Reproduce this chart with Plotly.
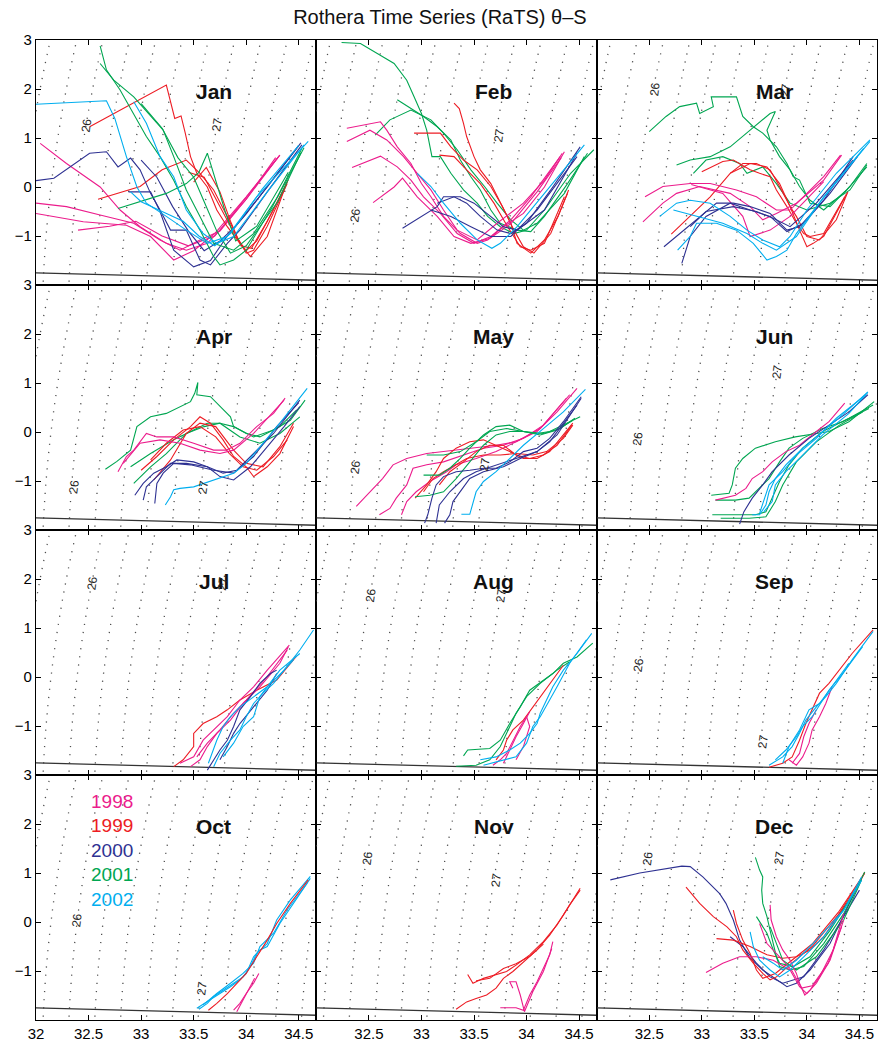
import numpy as np
import plotly.graph_objects as go
from plotly.subplots import make_subplots

# ---------------- data: (year, salinity list, potential temperature list) ----------------
JAN = [
    (1998, [32.04, 32.29, 32.61, 32.8, 32.99, 33.24, 33.43, 33.63, 33.75, 34.0, 34.32], [0.89, 0.48, 0.0, -0.47, -0.81, -1.15, -1.29, -1.15, -0.88, -0.2, 0.65]),
    (1998, [32.0, 32.29, 32.61, 32.93, 33.18, 33.37, 33.56, 33.75, 34.0, 34.3], [-0.33, -0.4, -0.57, -0.74, -1.08, -1.29, -1.08, -0.9, -0.25, 0.6]),
    (1998, [32.0, 32.45, 32.86, 33.09, 33.31, 33.5, 33.7, 34.0, 34.32], [-0.54, -0.71, -0.78, -1.01, -1.49, -1.3, -0.95, -0.2, 0.65]),
    (1998, [32.4, 32.7, 32.95, 33.2, 33.45, 33.7, 34.0, 34.28], [-0.88, -0.8, -0.7, -1.0, -1.2, -1.0, -0.25, 0.6]),
    (1999, [32.51, 33.24, 33.32, 33.38, 33.42, 33.47, 33.53, 33.63, 33.72, 33.82, 33.94, 34.04, 34.2, 34.39], [1.23, 2.08, 1.4, 1.45, 1.1, 0.62, 0.28, 0.0, -0.47, -0.81, -1.15, -1.42, -1.01, 0.11]),
    (1999, [32.59, 32.99, 33.2, 33.43, 33.56, 33.69, 33.82, 33.91, 34.0, 34.07, 34.2, 34.39], [-0.25, 0.01, 0.35, 0.55, 0.28, -0.06, -0.6, -1.01, -1.35, -1.29, -0.8, 0.07]),
    (1999, [33.45, 33.6, 33.7, 33.8, 33.9, 34.0, 34.1, 34.25, 34.4], [0.3, 0.2, -0.2, -0.6, -1.0, -1.3, -1.1, -0.5, 0.15]),
    (1999, [33.5, 33.62, 33.75, 33.85, 33.95, 34.05, 34.2, 34.38], [0.1, 0.4, -0.1, -0.7, -1.2, -1.25, -0.7, 0.05]),
    (2000, [32.0, 32.17, 32.51, 32.67, 32.78, 32.9, 32.99, 33.09, 33.18, 33.28, 33.43, 33.56, 33.66, 33.82, 33.94, 34.2, 34.53], [0.13, 0.18, 0.69, 0.72, 0.41, 0.59, 0.35, -0.13, -0.47, -0.88, -0.88, -1.49, -1.59, -1.15, -0.88, -0.1, 0.86]),
    (2000, [32.88, 33.09, 33.18, 33.31, 33.5, 33.66, 33.82, 34.0, 34.25, 34.5], [-0.1, -0.1, -0.5, -1.29, -1.63, -1.5, -1.0, -0.55, 0.15, 0.85]),
    (2000, [33.0, 33.15, 33.3, 33.45, 33.6, 33.75, 33.9, 34.2, 34.52], [0.55, 0.2, -0.4, -0.9, -1.3, -1.1, -0.8, 0.0, 0.9]),
    (2001, [32.61, 32.67, 32.8, 32.93, 33.05, 33.18, 33.31, 33.43, 33.56, 33.69, 33.75, 33.88, 34.0, 34.25, 34.53], [2.88, 2.39, 1.98, 1.5, 1.03, 0.62, 0.14, -0.4, -0.88, -1.42, -1.59, -1.49, -1.29, -0.4, 0.79]),
    (2001, [32.61, 32.74, 32.93, 33.09, 33.21, 33.31, 33.43, 33.56, 33.69, 33.88, 34.07, 34.3, 34.55], [2.52, 2.18, 1.84, 1.44, 1.16, 0.62, -0.06, -0.6, -1.15, -1.29, -0.95, -0.2, 0.8]),
    (2001, [32.78, 33.02, 33.24, 33.43, 33.55, 33.63, 33.7, 33.8, 33.9, 34.1, 34.4], [-0.44, -0.27, -0.13, 0.07, 0.3, 0.69, 0.2, -0.5, -1.1, -0.8, 0.3]),
    (2001, [33.0, 33.2, 33.35, 33.5, 33.6, 33.72, 33.85, 34.0, 34.3, 34.52], [1.7, 1.2, 0.6, 0.2, -0.3, -0.9, -1.35, -1.2, -0.3, 0.7]),
    (2002, [32.0, 32.67, 32.75, 32.86, 32.96, 33.05, 33.24, 33.43, 33.63, 33.82, 34.1, 34.59], [1.69, 1.76, 1.4, 0.62, 0.0, -0.33, -0.6, -0.88, -1.15, -1.01, -0.2, 0.93]),
    (2002, [32.93, 33.05, 33.18, 33.31, 33.43, 33.59, 33.72, 33.88, 34.2, 34.55], [1.74, 1.3, 0.62, 0.21, -0.47, -0.95, -1.15, -1.01, -0.1, 0.86]),
    (2002, [32.9, 33.0, 33.2, 33.4, 33.55, 33.7, 33.85, 34.15, 34.5], [-0.1, -0.3, -0.5, -0.7, -1.0, -1.2, -0.95, -0.05, 0.85]),
]

FEB = [
    (2001, [32.24, 32.42, 32.74, 32.86, 32.93, 33.0, 33.05, 33.1, 33.18, 33.28, 33.4, 33.53, 33.63, 33.75, 33.88, 34.0, 34.17, 34.42, 34.64], [2.95, 2.93, 2.52, 2.18, 1.84, 1.5, 1.16, 0.62, 0.62, 0.28, -0.06, -0.33, -0.6, -0.81, -0.95, -0.88, -0.47, 0.28, 0.76]),
    (2001, [32.77, 32.9, 33.02, 33.15, 33.28, 33.37, 33.47, 33.56, 33.66, 33.75, 33.91, 34.04, 34.17, 34.39, 34.58], [1.78, 1.6, 1.44, 1.23, 0.96, 0.55, 0.21, -0.06, -0.47, -0.74, -0.88, -0.91, -0.6, 0.07, 0.69]),
    (2001, [32.56, 32.7, 32.9, 33.09, 33.21, 33.34, 33.47, 33.6, 33.72, 33.85, 33.97, 34.1, 34.36, 34.55], [1.06, 1.37, 1.57, 1.37, 1.1, 0.76, 0.35, 0.01, -0.33, -0.67, -0.88, -0.74, -0.13, 0.62]),
    (1999, [33.31, 33.36, 33.4, 33.43, 33.5, 33.56, 33.66, 33.75, 33.85, 33.91, 34.04, 34.17, 34.3, 34.4], [1.71, 1.6, 1.3, 1.03, 0.62, 0.35, 0.07, -0.33, -0.74, -1.15, -1.35, -1.08, -0.6, -0.06]),
    (1999, [32.93, 33.18, 33.28, 33.4, 33.53, 33.66, 33.77, 33.88, 33.97, 34.07, 34.23, 34.39], [1.1, 1.1, 0.82, 0.55, 0.35, 0.01, -0.4, -0.88, -1.22, -1.35, -0.95, -0.13]),
    (1999, [33.17, 33.31, 33.43, 33.56, 33.69, 33.82, 33.94, 34.04, 34.17, 34.36], [0.65, 0.62, 0.35, 0.07, -0.33, -0.81, -1.22, -1.29, -1.15, -0.2]),
    (1998, [32.29, 32.61, 32.67, 32.77, 32.9, 33.0, 33.09, 33.21, 33.37, 33.53, 33.63, 33.78, 33.97, 34.17, 34.36], [1.2, 1.33, 1.16, 0.82, 0.48, 0.07, -0.2, -0.6, -0.95, -1.15, -1.08, -0.81, -0.54, 0.0, 0.72]),
    (1998, [32.29, 32.51, 32.67, 32.83, 32.96, 33.09, 33.21, 33.34, 33.53, 33.72, 33.97, 34.17, 34.34], [0.93, 1.16, 0.96, 0.62, 0.28, -0.06, -0.47, -0.88, -1.08, -0.74, -0.33, 0.14, 0.69]),
    (1998, [32.34, 32.61, 32.77, 32.9, 33.02, 33.18, 33.34, 33.5, 33.66, 33.85, 34.04, 34.32], [0.4, 0.63, 0.41, 0.14, -0.2, -0.54, -0.95, -1.15, -1.01, -0.67, -0.2, 0.62]),
    (1998, [32.54, 32.74, 32.82, 32.96, 33.15, 33.31, 33.47, 33.65, 33.85, 34.1, 34.33], [-0.32, 0.0, 0.18, -0.2, -0.6, -1.01, -1.15, -1.05, -0.75, -0.1, 0.6]),
    (2000, [32.82, 33.0, 33.15, 33.21, 33.37, 33.5, 33.66, 33.78, 33.91, 34.17, 34.48], [-0.84, -0.6, -0.4, -0.2, -0.2, -0.33, -0.6, -0.81, -0.88, -0.47, 0.69]),
    (2000, [33.15, 33.31, 33.43, 33.56, 33.72, 33.85, 34.0, 34.23, 34.51], [-0.33, -0.2, -0.33, -0.6, -0.88, -0.95, -0.74, -0.06, 0.82]),
    (2000, [33.09, 33.28, 33.47, 33.66, 33.85, 34.1, 34.48], [-0.47, -0.6, -0.81, -1.01, -1.01, -0.47, 0.62]),
    (2002, [32.96, 33.09, 33.21, 33.37, 33.53, 33.67, 33.75, 33.91, 34.17, 34.55], [0.28, 0.01, -0.33, -0.74, -1.08, -1.25, -1.15, -0.81, -0.13, 0.86]),
]

MAR = [
    (2001, [32.5, 32.66, 32.79, 32.95, 32.98, 33.11, 33.09, 33.33, 33.39, 33.49, 33.58, 33.71, 33.81, 33.87, 33.93, 33.97, 34.03, 34.22, 34.41, 34.57], [1.13, 1.44, 1.64, 1.71, 1.5, 1.64, 1.84, 1.84, 1.44, 1.23, 1.1, 0.82, 0.48, 0.21, 0.14, -0.06, -0.33, -0.4, 0.01, 0.48]),
    (2001, [32.76, 32.89, 33.08, 33.27, 33.46, 33.58, 33.65, 33.7, 33.62, 33.65, 33.74, 33.84, 33.93, 34.03, 34.16, 34.38, 34.57], [0.45, 0.55, 0.62, 0.82, 1.16, 1.37, 1.5, 1.54, 1.16, 0.96, 0.62, 0.35, 0.01, -0.27, -0.47, -0.06, 0.41]),
    (2001, [32.92, 33.04, 33.2, 33.36, 33.43, 33.58, 33.71, 33.84, 34.0, 34.22, 34.41, 34.57], [0.28, 0.55, 0.62, 0.48, 0.28, 0.41, 0.07, -0.33, -0.47, -0.33, -0.06, 0.45]),
    (1999, [32.71, 32.89, 33.08, 33.27, 33.39, 33.52, 33.65, 33.74, 33.84, 33.93, 34.0, 34.06, 34.16, 34.38], [-0.96, -0.6, -0.2, 0.28, 0.48, 0.48, 0.35, 0.01, -0.4, -0.88, -1.22, -1.15, -1.01, -0.13]),
    (1999, [33.0, 33.2, 33.3, 33.46, 33.55, 33.65, 33.71, 33.81, 33.9, 33.97, 34.03, 34.16, 34.36], [0.31, 0.52, 0.55, 0.35, 0.28, 0.21, -0.06, -0.4, -0.74, -0.95, -1.01, -0.95, -0.2]),
    (1999, [33.27, 33.46, 33.62, 33.74, 33.84, 33.9, 34.0, 34.12, 34.28, 34.39], [0.28, 0.48, 0.41, 0.07, -0.4, -0.6, -1.01, -1.08, -0.67, -0.1]),
    (1998, [32.46, 32.63, 32.89, 33.08, 33.33, 33.52, 33.71, 33.84, 34.0, 34.16, 34.32], [-0.2, 0.01, 0.07, 0.07, -0.06, -0.2, -0.47, -0.47, -0.13, 0.21, 0.65]),
    (1998, [32.44, 32.63, 32.76, 32.98, 33.27, 33.46, 33.58, 33.71, 33.9, 34.16, 34.33], [-0.71, -0.33, -0.13, 0.01, -0.13, -0.4, -0.67, -0.54, -0.33, 0.14, 0.65]),
    (1998, [32.9, 33.2, 33.39, 33.46, 33.65, 33.84, 34.16], [0.05, -0.13, -0.6, -1.01, -0.88, -0.6, 0.11]),
    (2000, [32.64, 32.79, 32.98, 33.14, 33.3, 33.46, 33.65, 33.81, 33.93, 34.16, 34.44], [-1.22, -0.95, -0.6, -0.33, -0.33, -0.4, -0.54, -0.88, -0.81, -0.27, 0.62]),
    (2000, [32.81, 32.85, 32.89, 33.04, 33.27, 33.46, 33.65, 33.81, 33.97, 34.22, 34.48], [-1.56, -1.29, -1.01, -0.6, -0.33, -0.47, -0.6, -0.91, -0.74, -0.13, 0.62]),
    (2000, [32.89, 33.04, 33.3, 33.52, 33.68, 33.84, 34.09, 34.44], [-0.81, -0.5, -0.4, -0.5, -0.64, -0.81, -0.33, 0.55]),
    (2002, [32.6, 32.76, 32.89, 33.08, 33.27, 33.43, 33.58, 33.74, 33.84, 34.0, 34.28, 34.6], [-0.6, -0.33, -0.27, -0.33, -0.6, -0.88, -1.08, -1.22, -1.01, -0.47, 0.28, 0.96]),
    (2002, [32.77, 32.89, 32.95, 33.14, 33.33, 33.49, 33.62, 33.71, 33.81, 33.9, 34.09, 34.48, 34.6], [-1.29, -1.01, -0.74, -0.74, -0.88, -1.15, -1.49, -1.42, -1.29, -0.95, -0.4, 0.62, 0.93]),
    (2002, [32.73, 32.95, 33.2, 33.43, 33.58, 33.71, 33.9, 34.16, 34.54], [-0.47, -0.6, -0.74, -0.95, -1.15, -1.29, -1.01, -0.2, 0.79]),
]

APR = [
    (2001, [32.66, 32.77, 32.9, 32.96, 33.09, 33.24, 33.47, 33.51, 33.54, 33.53, 33.66, 33.75, 33.85, 33.88, 34.07, 34.26, 34.42, 34.56], [-0.76, -0.6, -0.37, 0.11, 0.31, 0.38, 0.62, 0.79, 1.01, 0.76, 0.72, 0.52, 0.31, 0.11, -0.1, 0.04, 0.24, 0.65]),
    (2001, [32.9, 33.09, 33.31, 33.5, 33.63, 33.75, 33.88, 34.0, 34.13, 34.32, 34.48], [-0.71, -0.44, -0.16, 0.04, 0.18, 0.18, 0.11, -0.03, -0.1, 0.11, 0.45]),
    (2001, [32.93, 33.09, 33.24, 33.43, 33.6, 33.75, 33.94, 34.13, 34.32, 34.51], [-1.05, -0.71, -0.44, -0.03, 0.11, 0.18, -0.1, -0.23, -0.03, 0.31]),
    (1999, [33.0, 33.15, 33.31, 33.47, 33.56, 33.66, 33.78, 33.88, 34.0, 34.07, 34.2, 34.32, 34.45], [-0.78, -0.5, -0.16, 0.11, 0.31, 0.18, -0.16, -0.5, -0.71, -0.91, -0.71, -0.44, 0.11]),
    (1999, [33.09, 33.24, 33.4, 33.56, 33.71, 33.84, 33.97, 34.1, 34.26, 34.39], [-0.57, -0.23, 0.04, 0.11, -0.1, -0.44, -0.71, -0.78, -0.5, -0.16]),
    (1999, [33.12, 33.28, 33.43, 33.56, 33.71, 33.88, 34.0, 34.16, 34.32, 34.45], [-0.98, -0.57, -0.03, 0.18, 0.11, -0.37, -0.64, -0.71, -0.3, 0.18]),
    (1998, [32.78, 32.86, 32.93, 33.05, 33.15, 33.31, 33.5, 33.69, 33.81, 33.94, 34.1, 34.26, 34.37], [-0.81, -0.5, -0.37, -0.03, -0.1, -0.1, -0.23, -0.37, -0.37, -0.23, 0.11, 0.38, 0.69]),
    (1998, [32.83, 32.99, 33.18, 33.37, 33.56, 33.75, 33.88, 34.07, 34.36], [-0.64, -0.23, -0.16, -0.23, -0.37, -0.44, -0.37, -0.03, 0.65]),
    (2000, [32.94, 33.02, 33.12, 33.24, 33.34, 33.5, 33.63, 33.78, 33.91, 34.07, 34.26, 34.51], [-1.29, -1.05, -0.84, -0.71, -0.57, -0.61, -0.71, -0.84, -0.78, -0.44, -0.03, 0.65]),
    (2000, [33.02, 33.05, 33.15, 33.28, 33.43, 33.63, 33.75, 33.88, 34.04, 34.2, 34.36, 34.51], [-1.39, -1.12, -0.91, -0.64, -0.64, -0.71, -0.91, -0.98, -0.71, -0.3, 0.11, 0.52]),
    (2000, [33.13, 33.15, 33.21, 33.31, 33.47, 33.69, 33.88, 34.07, 34.29, 34.5], [-1.46, -1.05, -0.84, -0.64, -0.67, -0.78, -0.84, -0.5, 0.11, 0.6]),
    (2002, [33.23, 33.28, 33.31, 33.37, 33.5, 33.69, 33.88, 34.0, 34.13, 34.32, 34.58], [-1.49, -1.32, -1.18, -1.15, -1.12, -0.98, -0.84, -0.64, -0.3, 0.18, 0.89]),
]

MAY = [
    (1998, [32.38, 32.51, 32.63, 32.73, 32.86, 33.05, 33.33, 33.52, 33.71, 33.9, 34.1, 34.29, 34.48], [-1.52, -1.22, -0.95, -0.67, -0.54, -0.44, -0.37, -0.33, -0.27, -0.2, 0.01, 0.41, 0.89]),
    (1998, [32.6, 32.7, 32.76, 32.86, 32.92, 33.05, 33.21, 33.4, 33.59, 33.78, 33.97, 34.16, 34.41], [-1.69, -1.56, -1.35, -1.08, -0.74, -0.67, -0.61, -0.47, -0.33, -0.27, -0.13, 0.14, 0.76]),
    (1998, [32.81, 32.86, 32.95, 33.08, 33.24, 33.33, 33.52, 33.71, 33.9, 34.13, 34.38], [-1.69, -1.42, -1.22, -1.01, -0.81, -0.67, -0.54, -0.4, -0.2, 0.07, 0.69]),
    (1999, [32.94, 33.05, 33.14, 33.21, 33.33, 33.46, 33.59, 33.71, 33.84, 33.97, 34.1, 34.22, 34.35, 34.44], [-1.35, -1.08, -0.81, -0.54, -0.33, -0.2, -0.16, -0.27, -0.4, -0.54, -0.54, -0.4, -0.06, 0.18]),
    (1999, [33.02, 33.11, 33.21, 33.33, 33.43, 33.59, 33.75, 33.9, 34.06, 34.19, 34.35, 34.44], [-1.22, -0.95, -0.81, -0.67, -0.54, -0.47, -0.47, -0.44, -0.47, -0.4, -0.13, 0.14]),
    (1999, [33.17, 33.27, 33.4, 33.52, 33.65, 33.78, 33.9, 34.03, 34.16, 34.29, 34.43], [-1.08, -0.81, -0.61, -0.4, -0.27, -0.27, -0.47, -0.54, -0.47, -0.27, 0.14]),
    (2001, [33.02, 33.17, 33.27, 33.37, 33.46, 33.59, 33.71, 33.84, 33.97, 34.1, 34.22, 34.35, 34.51], [-0.88, -0.88, -0.74, -0.54, -0.33, -0.06, 0.11, 0.14, 0.01, -0.03, 0.01, 0.14, 0.31]),
    (2001, [32.94, 33.08, 33.21, 33.33, 33.46, 33.59, 33.71, 33.84, 33.97, 34.16, 34.32, 34.46], [-1.32, -1.29, -1.22, -0.95, -0.61, -0.27, -0.06, 0.01, 0.01, -0.03, 0.07, 0.28]),
    (2001, [33.05, 33.21, 33.37, 33.52, 33.65, 33.81, 33.97, 34.13, 34.29, 34.44], [-0.47, -0.47, -0.4, -0.2, 0.01, 0.07, 0.01, -0.06, 0.04, 0.24]),
    (2000, [33.03, 33.06, 33.1, 33.14, 33.21, 33.33, 33.46, 33.59, 33.71, 33.84, 33.97, 34.1, 34.22, 34.35, 34.52], [-1.86, -1.69, -1.35, -1.08, -0.91, -0.81, -0.78, -0.74, -0.74, -0.61, -0.4, -0.33, -0.13, 0.21, 0.72]),
    (2000, [33.22, 33.27, 33.3, 33.37, 33.46, 33.59, 33.78, 33.94, 34.1, 34.29, 34.52], [-1.86, -1.69, -1.42, -1.22, -0.95, -0.81, -0.71, -0.54, -0.4, -0.06, 0.69]),
    (2000, [33.14, 33.17, 33.27, 33.4, 33.52, 33.71, 33.9, 34.1, 34.22, 34.48], [-1.86, -1.49, -1.22, -0.95, -0.81, -0.67, -0.54, -0.4, -0.2, 0.55]),
    (2002, [33.38, 33.46, 33.52, 33.59, 33.71, 33.84, 33.97, 34.16, 34.35, 34.56], [-1.68, -1.68, -1.22, -1.01, -0.81, -0.54, -0.27, 0.07, 0.41, 0.87]),
]

JUN = [
    (2001, [33.09, 33.26, 33.29, 33.32, 33.39, 33.51, 33.7, 33.89, 34.09, 34.21, 34.4, 34.64], [-1.29, -1.25, -1.08, -0.74, -0.54, -0.33, -0.2, -0.1, -0.03, 0.01, 0.21, 0.62]),
    (2001, [33.13, 33.32, 33.45, 33.55, 33.64, 33.74, 33.83, 33.96, 34.15, 34.34, 34.59], [-1.39, -1.39, -1.35, -1.15, -0.95, -0.61, -0.33, -0.13, 0.07, 0.21, 0.48]),
    (2001, [33.1, 33.32, 33.51, 33.61, 33.67, 33.74, 33.83, 33.96, 34.15, 34.4, 34.63], [-1.69, -1.69, -1.69, -1.63, -1.35, -1.01, -0.67, -0.33, 0.01, 0.28, 0.55]),
    (2001, [33.18, 33.45, 33.61, 33.7, 33.77, 33.9, 34.09, 34.31, 34.53], [-1.76, -1.76, -1.73, -1.42, -1.08, -0.61, -0.2, 0.14, 0.41]),
    (1998, [33.13, 33.32, 33.42, 33.48, 33.58, 33.67, 33.8, 33.93, 34.09, 34.21, 34.36], [-1.39, -1.29, -1.15, -0.95, -0.81, -0.61, -0.4, -0.27, 0.01, 0.21, 0.59]),
    (2000, [33.36, 33.4, 33.48, 33.58, 33.67, 33.83, 34.02, 34.21, 34.4, 34.58], [-1.88, -1.63, -1.35, -1.08, -0.81, -0.47, -0.13, 0.14, 0.41, 0.76]),
    (2002, [33.48, 33.55, 33.61, 33.64, 33.7, 33.8, 33.96, 34.15, 34.34, 34.58], [-1.69, -1.69, -1.49, -1.22, -0.95, -0.67, -0.33, 0.01, 0.35, 0.82]),
    (2002, [33.55, 33.61, 33.64, 33.77, 33.9, 34.09, 34.28, 34.56], [-1.66, -1.29, -1.08, -0.81, -0.47, -0.13, 0.28, 0.76]),
    (2002, [33.59, 33.67, 33.7, 33.8, 33.93, 34.15, 34.4, 34.58], [-1.63, -1.42, -1.08, -0.81, -0.54, -0.06, 0.38, 0.81]),
]

JUL = [
    (1999, [33.31, 33.4, 33.5, 33.5, 33.59, 33.72, 33.82, 33.94, 34.1, 34.29, 34.48], [-1.83, -1.69, -1.42, -1.15, -0.95, -0.81, -0.67, -0.47, -0.27, -0.06, 0.43]),
    (1998, [33.37, 33.5, 33.59, 33.69, 33.82, 33.94, 34.07, 34.2, 34.41], [-1.76, -1.63, -1.29, -1.08, -0.81, -0.47, -0.2, 0.14, 0.65]),
    (1998, [33.47, 33.56, 33.63, 33.72, 33.85, 33.97, 34.13, 34.32, 34.4], [-1.83, -1.69, -1.42, -1.15, -0.88, -0.54, -0.2, 0.28, 0.61]),
    (1998, [33.53, 33.63, 33.75, 33.88, 34.0, 34.2, 34.39], [-1.63, -1.35, -1.08, -0.74, -0.47, 0.01, 0.55]),
    (2000, [33.63, 33.69, 33.75, 33.82, 33.88, 33.94, 34.04, 34.13, 34.23, 34.29], [-1.9, -1.69, -1.49, -1.29, -1.01, -0.67, -0.4, -0.13, 0.07, 0.14]),
    (2000, [33.75, 33.82, 33.88, 33.94, 34.07, 34.2, 34.29], [-1.69, -1.42, -1.15, -0.95, -0.61, -0.27, 0.07]),
    (2002, [33.64, 33.69, 33.72, 33.78, 33.85, 33.94, 34.07, 34.2, 34.36, 34.51, 34.64], [-1.76, -1.49, -1.29, -1.01, -0.81, -0.61, -0.4, -0.2, 0.14, 0.55, 0.96]),
    (2002, [33.69, 33.75, 33.85, 33.94, 34.0, 34.07, 34.16, 34.26, 34.36, 34.45], [-1.83, -1.56, -1.29, -1.08, -0.81, -0.54, -0.33, -0.13, 0.14, 0.35]),
    (2002, [33.78, 33.88, 33.97, 34.07, 34.13, 34.2, 34.32, 34.51], [-1.63, -1.35, -1.01, -0.81, -0.4, -0.2, 0.14, 0.48]),
]

AUG = [
    (2001, [33.4, 33.44, 33.65, 33.75, 33.84, 33.94, 34.03, 34.16, 34.25, 34.35, 34.48, 34.63], [-1.61, -1.49, -1.46, -1.29, -0.95, -0.61, -0.27, -0.06, 0.07, 0.28, 0.41, 0.69]),
    (2001, [33.33, 33.52, 33.65, 33.75, 33.81, 33.9, 34.0, 34.13, 34.29, 34.41], [-1.82, -1.8, -1.69, -1.42, -1.15, -0.74, -0.4, -0.13, 0.14, 0.31]),
    (1999, [33.71, 33.78, 33.81, 33.87, 33.97, 34.06, 34.16, 34.25, 34.35], [-1.69, -1.49, -1.29, -1.08, -0.88, -0.61, -0.33, -0.06, 0.24]),
    (1998, [33.68, 33.75, 33.81, 33.87, 33.94, 34.0, 34.03, 33.97, 33.9], [-1.8, -1.69, -1.56, -1.29, -1.01, -0.81, -1.01, -1.42, -1.69]),
    (1998, [33.78, 33.84, 33.9, 33.97, 34.03], [-1.76, -1.49, -1.22, -0.95, -0.71]),
    (2002, [33.56, 33.71, 33.84, 33.94, 34.03, 34.1, 34.13, 34.19, 34.25, 34.35, 34.48, 34.62], [-1.69, -1.63, -1.49, -1.35, -1.15, -0.95, -0.74, -0.47, -0.2, 0.14, 0.48, 0.89]),
    (2002, [33.59, 33.78, 33.9, 34.0, 34.06, 34.13, 34.22, 34.29, 34.41, 34.57], [-1.8, -1.69, -1.63, -1.35, -1.01, -0.81, -0.47, -0.2, 0.28, 0.76]),
]

SEP = [
    (1999, [33.64, 33.77, 33.86, 33.93, 33.99, 34.06, 34.12, 34.21, 34.31, 34.43, 34.63], [-1.84, -1.76, -1.63, -1.29, -0.95, -0.61, -0.33, -0.13, 0.14, 0.48, 0.96]),
    (1998, [33.83, 33.9, 33.96, 34.02, 34.05, 34.12, 34.18, 34.24], [-1.69, -1.8, -1.63, -1.35, -1.08, -0.81, -0.54, -0.2]),
    (1998, [33.86, 33.93, 33.97, 34.02, 34.09], [-1.76, -1.56, -1.22, -0.95, -0.67]),
    (2002, [33.64, 33.77, 33.86, 33.93, 33.99, 34.09, 34.18, 34.28, 34.43, 34.63], [-1.8, -1.63, -1.42, -1.15, -0.88, -0.61, -0.4, -0.13, 0.35, 0.93]),
    (2002, [33.7, 33.8, 33.9, 33.96, 34.05, 34.15, 34.21, 34.34, 34.53], [-1.69, -1.49, -1.22, -1.01, -0.81, -0.47, -0.27, 0.07, 0.62]),
    (2002, [33.77, 33.83, 33.93, 34.02, 34.12, 34.28, 34.4], [-1.76, -1.42, -1.08, -0.67, -0.54, -0.06, 0.28]),
]

OCT = [
    (2002, [33.55, 33.63, 33.69, 33.78, 33.88, 33.97, 34.04, 34.1, 34.2, 34.29, 34.42, 34.61], [-1.78, -1.66, -1.52, -1.39, -1.25, -1.12, -0.91, -0.64, -0.44, 0.04, 0.45, 0.93]),
    (2002, [33.53, 33.66, 33.75, 33.85, 33.94, 34.0, 34.07, 34.13, 34.2, 34.32, 34.45, 34.61], [-1.76, -1.59, -1.46, -1.32, -1.18, -1.05, -0.71, -0.57, -0.5, -0.03, 0.38, 0.89]),
    (2002, [33.59, 33.72, 33.85, 33.97, 34.07, 34.13, 34.26, 34.39, 34.58], [-1.69, -1.46, -1.25, -1.05, -0.84, -0.5, -0.23, 0.25, 0.79]),
    (1999, [33.64, 33.72, 33.82, 33.91, 34.0, 34.1, 34.2, 34.29, 34.42, 34.59], [-1.8, -1.66, -1.46, -1.25, -1.05, -0.71, -0.37, -0.03, 0.38, 0.86]),
    (1998, [33.88, 33.94, 34.0, 34.07, 34.12], [-1.8, -1.66, -1.46, -1.25, -1.05]),
    (1998, [33.91, 33.97, 34.04, 34.08], [-1.83, -1.59, -1.32, -1.15]),
]

NOV = [
    (1999, [33.33, 33.43, 33.52, 33.62, 33.71, 33.78, 33.87, 33.97, 34.1, 34.22, 34.35, 34.51], [-1.78, -1.63, -1.56, -1.49, -1.35, -1.15, -1.01, -0.81, -0.57, -0.27, 0.14, 0.69]),
    (1999, [33.44, 33.49, 33.59, 33.71, 33.81, 33.9, 34.03, 34.16, 34.29, 34.41, 34.51], [-1.07, -1.25, -1.15, -1.08, -1.01, -0.88, -0.67, -0.4, -0.06, 0.35, 0.65]),
    (1999, [33.52, 33.65, 33.78, 33.9, 34.03, 34.16], [-1.2, -1.15, -0.95, -0.85, -0.7, -0.45]),
    (1998, [33.75, 33.9, 33.97, 34.03, 34.1, 34.16, 34.22, 34.25], [-1.75, -1.75, -1.8, -1.49, -1.22, -0.95, -0.67, -0.4]),
    (1998, [33.87, 33.84, 33.9, 33.94, 33.98, 34.06, 34.16, 34.24], [-1.35, -1.22, -1.22, -1.49, -1.83, -1.42, -1.01, -0.54]),
]

DEC = [
    (2000, [32.13, 32.41, 32.81, 32.89, 33.01, 33.17, 33.23, 33.3, 33.36, 33.45, 33.58, 33.71, 33.81, 33.9, 34.03, 34.22, 34.49], [0.86, 1.0, 1.14, 1.13, 0.92, 0.58, 0.38, 0.04, -0.37, -0.71, -0.98, -1.18, -1.32, -1.25, -0.98, -0.44, 0.75]),
    (2000, [33.27, 33.39, 33.52, 33.65, 33.77, 33.97, 34.16, 34.41, 34.5], [-0.3, -0.5, -0.84, -1.12, -1.25, -1.12, -0.57, 0.31, 0.65]),
    (1999, [32.85, 32.98, 33.11, 33.24, 33.33, 33.39, 33.49, 33.58, 33.65, 33.71, 33.85, 34.05, 34.3, 34.55], [0.71, 0.38, 0.11, -0.1, -0.3, -0.57, -0.84, -1.05, -1.18, -1.12, -0.85, -0.5, 0.15, 1.0]),
    (1999, [33.14, 33.3, 33.46, 33.62, 33.77, 33.9, 34.03, 34.16, 34.31, 34.47, 34.55], [-0.34, -0.37, -0.5, -0.67, -0.74, -0.71, -0.57, -0.3, 0.17, 0.65, 1.02]),
    (1999, [33.3, 33.33, 33.39, 33.46, 33.52, 33.58, 33.7, 33.85, 34.05, 34.3, 34.55], [0.24, -0.03, -0.37, -0.64, -0.98, -1.15, -1.05, -0.8, -0.45, 0.2, 1.0]),
    (2001, [33.51, 33.55, 33.58, 33.57, 33.58, 33.62, 33.65, 33.68, 33.71, 33.74, 33.84, 33.97, 34.16, 34.35, 34.55], [1.32, 1.06, 0.92, 0.65, 0.38, 0.11, -0.17, -0.44, -0.71, -0.91, -0.98, -0.91, -0.44, 0.17, 1.02]),
    (2001, [33.52, 33.62, 33.68, 33.74, 33.87, 34.03, 34.22, 34.5], [0.11, -0.23, -0.57, -0.84, -0.91, -0.71, -0.17, 0.78]),
    (2001, [33.65, 33.71, 33.77, 33.9, 34.09, 34.35, 34.52], [-0.1, -0.44, -0.78, -0.98, -0.71, 0.04, 0.86]),
    (1998, [33.65, 33.66, 33.71, 33.77, 33.84, 33.9, 33.93, 33.98, 34.03, 34.12, 34.25, 34.35], [0.35, 0.04, -0.3, -0.57, -0.78, -1.05, -1.25, -1.49, -1.39, -1.12, -0.57, 0.17]),
    (1998, [33.04, 33.2, 33.36, 33.52, 33.68, 33.84, 33.93, 34.0, 34.09, 34.22, 34.35], [-1.03, -0.84, -0.71, -0.71, -0.78, -0.98, -1.32, -1.46, -1.25, -0.78, 0.04]),
    (1998, [33.55, 33.62, 33.74, 33.86, 33.95, 34.05, 34.2, 34.33], [-0.03, -0.44, -0.71, -1.0, -1.35, -1.3, -0.85, -0.1]),
    (2002, [33.46, 33.49, 33.55, 33.65, 33.74, 33.84, 33.97, 34.16, 34.35, 34.52], [-0.2, -0.5, -0.78, -0.98, -1.12, -0.98, -0.71, -0.3, 0.24, 0.92]),
    (2002, [33.58, 33.68, 33.77, 33.9, 34.09, 34.35, 34.52], [-0.71, -0.84, -0.98, -0.78, -0.37, 0.24, 0.85]),
]

MONTHS = ["Jan", "Feb", "Mar", "Apr", "May", "Jun", "Jul", "Aug", "Sep", "Oct", "Nov", "Dec"]
PROFILES = [JAN, FEB, MAR, APR, MAY, JUN, JUL, AUG, SEP, OCT, NOV, DEC]

YEARS = [1998, 1999, 2000, 2001, 2002]
YEAR_COLORS = ["#EC1C8C", "#ED1C24", "#2E3192", "#00A651", "#00AEEF"]

# contour label positions (S, theta) for sigma 26 and 27 in each panel
LABEL26 = [(32.48, 1.27), (32.37, -0.57), (32.55, 2.01), (32.36, -1.12), (32.37, -0.71), (32.39, -0.14),
           (32.54, 1.91), (32.52, 1.67), (32.40, 0.24), (32.39, 0.04), (32.49, 1.30), (32.49, 1.30)]
LABEL27 = [(33.72, 1.27), (33.74, 1.06), (33.80, 1.97), (33.59, -1.12), (33.60, -0.67), (33.72, 1.24),
           (33.78, 1.91), (33.76, 1.67), (33.58, -1.32), (33.58, -1.35), (33.71, 0.86), (33.74, 1.30)]

X_RANGE = [32.0, 34.667]
Y_RANGE = [-2.0, 3.0]
X_TICKS = [32, 32.5, 33, 33.5, 34, 34.5]
Y_TICKS = [-1, 0, 1, 2, 3]


def sigma0(S, T):
    """UNESCO 1980 one-atmosphere density anomaly (background isopycnals)."""
    rw = (999.842594 + 6.793952e-2 * T - 9.095290e-3 * T**2 + 1.001685e-4 * T**3
          - 1.120083e-6 * T**4 + 6.536332e-9 * T**5)
    a = 0.824493 - 4.0899e-3 * T + 7.6438e-5 * T**2 - 8.2467e-7 * T**3 + 5.3875e-9 * T**4
    b = -5.72466e-3 + 1.0227e-4 * T - 1.6546e-6 * T**2
    return rw + a * S + b * S**1.5 + 4.8314e-4 * S**2 - 1000.0


def freezing_point(S):
    return -0.0575 * S + 1.710523e-3 * S**1.5 - 2.154996e-4 * S**2


S_grid = np.linspace(31.95, 34.75, 141)
T_grid = np.linspace(-2.1, 3.1, 131)
SS, TT = np.meshgrid(S_grid, T_grid)
Z = sigma0(SS, TT)
S_fr = np.linspace(32.0, 34.667, 30)
T_fr = freezing_point(S_fr)

FONT = "Liberation Sans, Arial, Helvetica, sans-serif"

fig = make_subplots(rows=4, cols=3, horizontal_spacing=0, vertical_spacing=0)

for i, (month, profs) in enumerate(zip(MONTHS, PROFILES)):
    r, c = i // 3 + 1, i % 3 + 1
    fig.add_trace(go.Contour(x=S_grid, y=T_grid, z=Z, showscale=False, hoverinfo="skip",
                             contours=dict(start=25.0, end=28.6, size=0.2, coloring="none"),
                             line=dict(color="#505050", width=1.3, dash="1.2px,7px")), row=r, col=c)
    fig.add_trace(go.Scatter(x=S_fr, y=T_fr, mode="lines", hoverinfo="skip",
                             line=dict(color="#333333", width=1.3), showlegend=False), row=r, col=c)
    for (yr, s, t) in profs:
        col = YEAR_COLORS[YEARS.index(yr)]
        fig.add_trace(go.Scatter(x=s, y=t, mode="lines", line=dict(color=col, width=1.1),
                                 showlegend=False, name=str(yr)), row=r, col=c)
    axn = "" if i == 0 else str(i + 1)
    fig.add_annotation(x=33.69, y=1.95, xref="x" + axn, yref="y" + axn, text=month, showarrow=False,
                       font=dict(family=FONT, size=21, color="#111111", weight="bold"))
    for (ls, lt), txt in ((LABEL26[i], "26"), (LABEL27[i], "27")):
        fig.add_annotation(x=ls, y=lt, xref="x" + axn, yref="y" + axn, text=txt, showarrow=False,
                           textangle=-82, font=dict(family=FONT, size=12, color="#222222"))
    xt = X_TICKS if c == 1 else X_TICKS[1:]
    fig.update_xaxes(range=X_RANGE, tickvals=xt, ticktext=[("%g" % v) for v in xt],
                     showticklabels=(r == 4), row=r, col=c)
    fig.update_yaxes(range=Y_RANGE, tickvals=Y_TICKS, showticklabels=(c == 1), row=r, col=c)

# year legend in Oct panel
for k, (yr, col) in enumerate(zip(YEARS, YEAR_COLORS)):
    fig.add_annotation(x=32.72, y=2.46 - 0.5 * k, xref="x10", yref="y10", text=str(yr), showarrow=False,
                       font=dict(family=FONT, size=19, color=col))

fig.update_xaxes(showgrid=False, zeroline=False, showline=True, linecolor="black", linewidth=1.3,
                 mirror="allticks", ticks="inside", ticklen=5, tickcolor="black",
                 tickfont=dict(family=FONT, size=15, color="black"))
fig.update_yaxes(showgrid=False, zeroline=False, showline=True, linecolor="black", linewidth=1.3,
                 mirror="allticks", ticks="inside", ticklen=5, tickcolor="black",
                 tickfont=dict(family=FONT, size=15, color="black"))

fig.update_layout(
    width=878, height=1044,
    margin=dict(l=36, r=1, t=40, b=24),
    paper_bgcolor="white", plot_bgcolor="white",
    showlegend=False,
    title=dict(text="Rothera Time Series (RaTS) θ–S", x=0.501, xanchor="center",
               y=1 - 17 / 1044, yanchor="middle", font=dict(family=FONT, size=20, color="#111111")),
)

fig.write_html("out.html")
